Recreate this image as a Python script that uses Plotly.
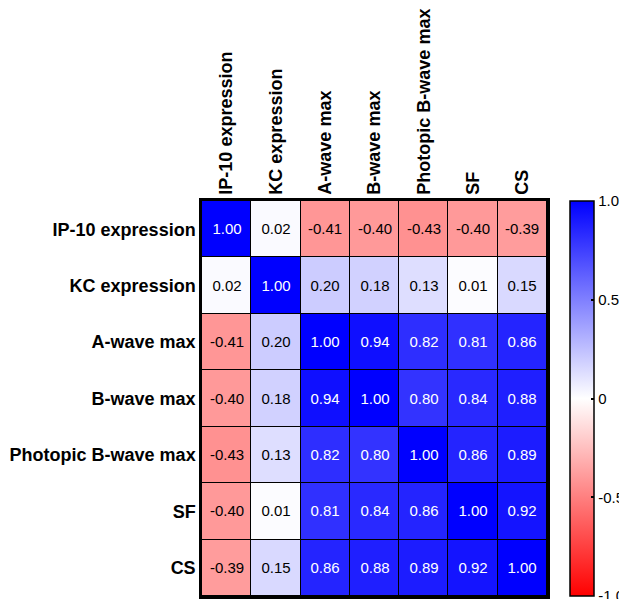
import plotly.graph_objects as go

labels = ["IP-10 expression", "KC expression", "A-wave max", "B-wave max",
          "Photopic B-wave max", "SF", "CS"]

row_ip10 = [1.00, 0.02, -0.41, -0.40, -0.43, -0.40, -0.39]
row_kc = [0.02, 1.00, 0.20, 0.18, 0.13, 0.01, 0.15]
row_awave = [-0.41, 0.20, 1.00, 0.94, 0.82, 0.81, 0.86]
row_bwave = [-0.40, 0.18, 0.94, 1.00, 0.80, 0.84, 0.88]
row_photopic = [-0.43, 0.13, 0.82, 0.80, 1.00, 0.86, 0.89]
row_sf = [-0.40, 0.01, 0.81, 0.84, 0.86, 1.00, 0.92]
row_cs = [-0.39, 0.15, 0.86, 0.88, 0.89, 0.92, 1.00]

z = [row_ip10, row_kc, row_awave, row_bwave, row_photopic, row_sf, row_cs]

cb_tickvals = [1.0, 0.5, 0, -0.5, -1.0]
cb_ticktext = ["1.0", "0.5", "0", "-0.5", "-1.0"]

font_family = "Liberation Sans, Arial, sans-serif"
colorscale = [[0, "rgb(255,0,0)"], [0.5, "rgb(255,255,255)"], [1, "rgb(0,0,255)"]]

# split cells by label colour (white text on strong blue cells)
z_dark = [[v if v < 0.5 else None for v in row] for row in z]
z_light = [[v if v >= 0.5 else None for v in row] for row in z]

fig = go.Figure()
fig.add_trace(go.Heatmap(
    z=z_dark, x=labels, y=labels, zmin=-1, zmax=1, colorscale=colorscale,
    xgap=1, ygap=1, texttemplate="%{z:.2f}",
    textfont=dict(family=font_family, size=15, color="black"),
    hoverinfo="skip", showscale=False,
))
fig.add_trace(go.Heatmap(
    z=z_light, x=labels, y=labels, zmin=-1, zmax=1, colorscale=colorscale,
    xgap=1, ygap=1, texttemplate="%{z:.2f}",
    textfont=dict(family=font_family, size=15, color="white"),
    hoverinfo="skip",
    colorbar=dict(
        x=1.0667, xanchor="left", xref="paper",
        y=0.5, yanchor="middle",
        thickness=24, thicknessmode="pixels",
        len=395, lenmode="pixels",
        outlinecolor="black", outlinewidth=1.5,
        tickvals=cb_tickvals, ticktext=cb_ticktext,
        ticks="inside", ticklen=3, tickcolor="black", tickwidth=1.5,
        tickfont=dict(family=font_family, size=15, color="black"),
        ticklabeloverflow="allow",
        xpad=0, ypad=0,
    ),
))

# page body has a small default margin, so the figure is drawn a bit smaller
fig.update_layout(
    width=619, height=591,
    margin=dict(l=194, r=80, t=193, b=3, autoexpand=False),
    paper_bgcolor="white", plot_bgcolor="black",
    font=dict(family=font_family, color="black"),
    xaxis=dict(side="top", tickangle=-90, showgrid=False, zeroline=False,
               tickfont=dict(family=font_family, size=18, color="black", weight="bold"),
               ticks="", showline=True, linecolor="black", linewidth=2.5, mirror=True,
               ticklabelstandoff=0, automargin=False),
    yaxis=dict(autorange="reversed", showgrid=False, zeroline=False,
               tickfont=dict(family=font_family, size=18, color="black", weight="bold"),
               ticks="", showline=True, linecolor="black", linewidth=2.5, mirror=True,
               ticklabelstandoff=0, automargin=False),
)

fig.write_html("out.html")
